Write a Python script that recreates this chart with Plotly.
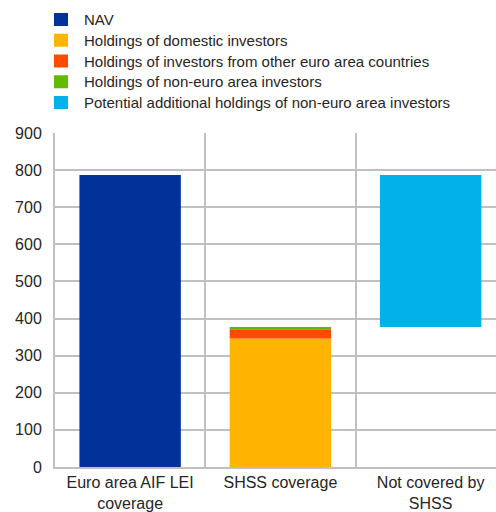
import plotly.graph_objects as go

# Categories along the x axis
categories = ["Euro area AIF LEI<br>coverage", "SHSS coverage", "Not covered by<br>SHSS"]

# Values (EUR billions)
nav = 787
domestic = 346
other_euro = 25
non_euro = 6

series_names = [
    "NAV",
    "Holdings of domestic investors",
    "Holdings of investors from other euro area countries",
    "Holdings of non-euro area investors",
    "Potential additional holdings of non-euro area investors",
]
colors = ["#003299", "#FFB400", "#FF4B00", "#65B800", "#00B1EA"]

y_ticks = [0, 100, 200, 300, 400, 500, 600, 700, 800, 900]

covered = domestic + other_euro + non_euro
potential = nav - covered

bars = [
    (categories[0], nav, 0),
    (categories[1], domestic, 0),
    (categories[1], other_euro, domestic),
    (categories[1], non_euro, domestic + other_euro),
    (categories[2], potential, covered),
]

W, H = 496, 512
M_L, M_R, M_T, M_B = 55, 0, 133, 45
plot_w = W - M_L - M_R
plot_h = H - M_T - M_B

fig = go.Figure()
for name, color, (cat, val, base) in zip(series_names, colors, bars):
    fig.add_trace(go.Bar(
        x=[cat], y=[val], base=[base], name=name,
        marker=dict(color=color, line=dict(width=0)),
        width=0.675, showlegend=False,
    ))

grid = "#c0c0c0"
txt = "#262626"


def px_x(px):
    return (px - M_L) / plot_w


def px_y(py):
    return (H - M_B - py) / plot_h


# Compact legend block above the plot: colour swatch + label per series
row0, row_gap = 19.5, 20.75
for i, (name, color) in enumerate(zip(series_names, colors)):
    cy = row0 + i * row_gap
    fig.add_shape(
        type="rect", xref="paper", yref="paper",
        x0=px_x(54), x1=px_x(68), y0=px_y(cy + 6.5), y1=px_y(cy - 6.5),
        fillcolor=color, line=dict(width=0),
    )
    fig.add_annotation(
        xref="paper", yref="paper", x=px_x(82), y=px_y(cy),
        xanchor="left", yanchor="middle", text=name, showarrow=False,
        font=dict(size=15, color=txt),
    )

fig.update_layout(
    width=W, height=H,
    barmode="overlay",
    margin=dict(l=M_L, r=M_R, t=M_T, b=M_B),
    paper_bgcolor="white", plot_bgcolor="white",
    font=dict(family="Liberation Sans, Arial, sans-serif", size=16, color=txt),
    showlegend=False,
    xaxis=dict(
        type="category", categoryorder="array", categoryarray=categories,
        range=[-0.5, 2.435], tickson="boundaries", showgrid=True,
        gridcolor=grid, gridwidth=2, ticks="", showline=True,
        linecolor=grid, linewidth=2, tickfont=dict(size=16, color=txt),
        automargin=False,
    ),
    yaxis=dict(
        range=[0, 900], tickvals=y_ticks, showgrid=True, gridcolor=grid,
        gridwidth=2, showline=True, linecolor=grid, linewidth=2,
        zeroline=False, ticks="", ticklabelstandoff=8,
        tickfont=dict(size=16, color=txt), automargin=False,
    ),
)

fig.write_html("out.html")
